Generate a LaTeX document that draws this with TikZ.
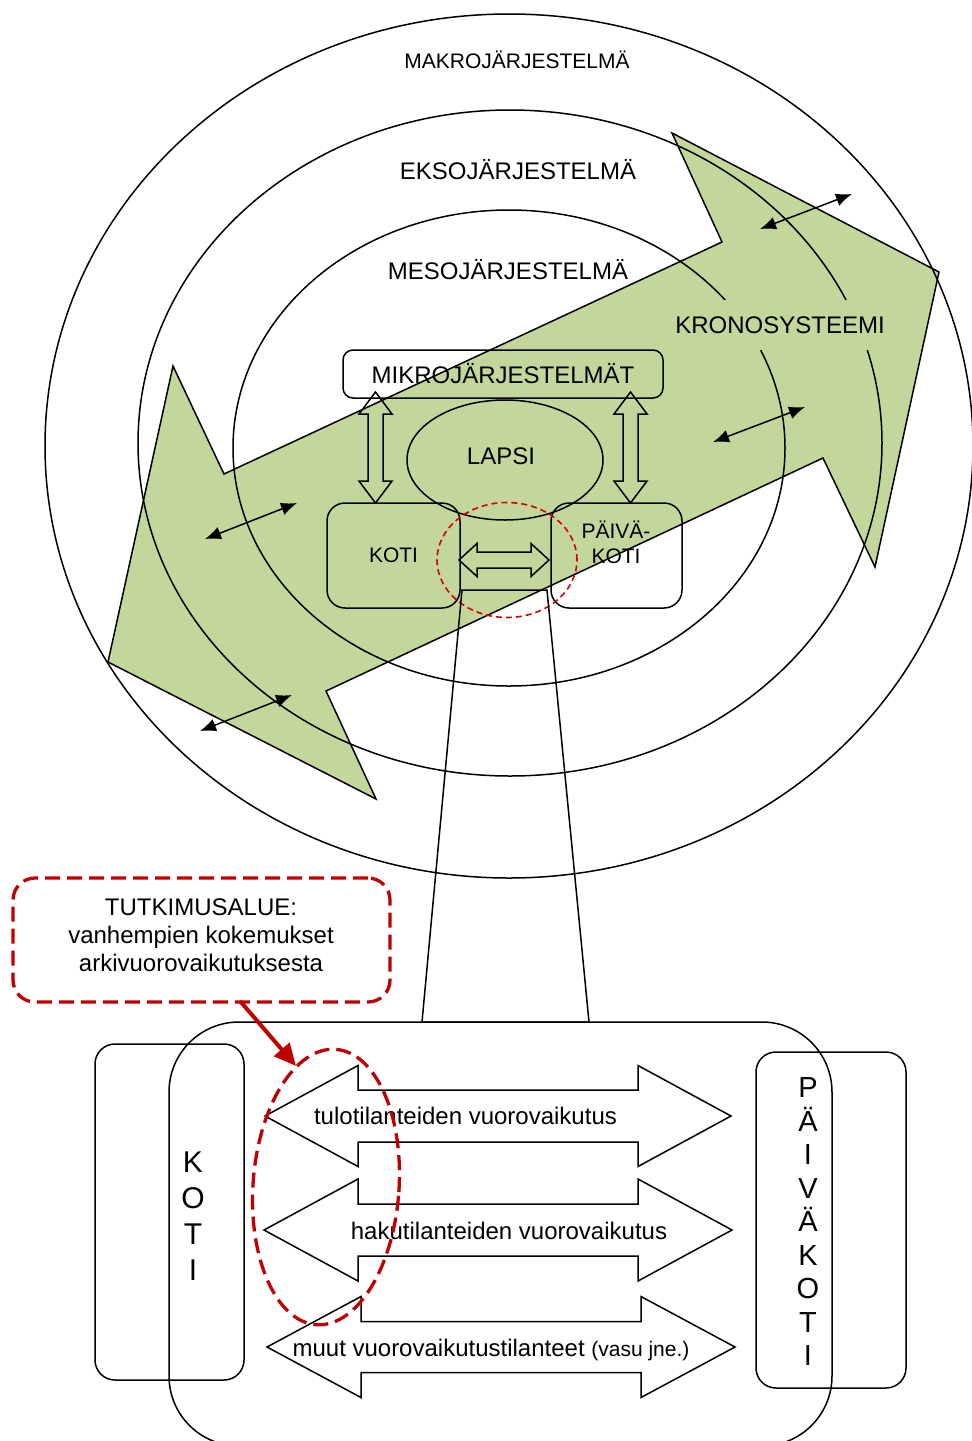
\documentclass[tikz,border=0pt]{standalone}
\usepackage{fontspec}
\setmainfont{Liberation Sans}
\usetikzlibrary{shapes.geometric,arrows.meta}

\definecolor{kronovihrea}{RGB}{195,214,155}
\definecolor{tummapuna}{RGB}{192,0,0}

\tikzset{
  viiva/.style={line width=1.5pt},
  kehä/.style={draw,ellipse,viiva,inner sep=0pt},
  laatikko/.style={draw,rectangle,rounded corners=#1,viiva,inner sep=0pt},
  laatikko/.default=15pt,
  iso/.style={font=\fontsize{24}{28}\selectfont},
  pieni/.style={font=\fontsize{21}{25}\selectfont},
  vuoro/.style={{Latex[length=16pt,width=13pt]}-{Latex[length=16pt,width=13pt]},viiva},
  rajaus/.style={draw=tummapuna,line width=3.3pt,dash pattern=on 15pt off 7pt}
}

% x1 x2 y kärki varsi siipi
\newcommand{\vaakanuoli}[6]{%
  \draw[viiva] (#1,#3) -- ({#1+#4},{#3-#6}) -- ({#1+#4},{#3-#5}) -- ({#2-#4},{#3-#5})
    -- ({#2-#4},{#3-#6}) -- (#2,#3) -- ({#2-#4},{#3+#6}) -- ({#2-#4},{#3+#5})
    -- ({#1+#4},{#3+#5}) -- ({#1+#4},{#3+#6}) -- cycle;}
% x y1 y2 kärki varsi siipi
\newcommand{\pystynuoli}[6]{%
  \draw[viiva] (#1,#2) -- ({#1-#6},{#2+#4}) -- ({#1-#5},{#2+#4}) -- ({#1-#5},{#3-#4})
    -- ({#1-#6},{#3-#4}) -- (#1,#3) -- ({#1+#6},{#3-#4}) -- ({#1+#5},{#3-#4})
    -- ({#1+#5},{#2+#4}) -- ({#1+#6},{#2+#4}) -- cycle;}

\begin{document}
\begin{tikzpicture}[x=1pt,y=-1pt]
\clip (0,0) rectangle (972,1441);
\fill[white] (0,0) rectangle (972,1441);

% kronosysteemi
\filldraw[fill=kronovihrea,viiva] (108,662) -- (173,366) -- (224,474) -- (722,242) -- (672,133)
  -- (939,272) -- (875,567) -- (823,458) -- (326,691) -- (376,799) -- cycle;

% kehät
\node[kehä,minimum width=928pt,minimum height=864pt] (makro) at (509,446) {};
\node[kehä,minimum width=744pt,minimum height=666pt] (ekso) at (510,443) {};
\node[kehä,minimum width=552pt,minimum height=476pt] (meso) at (509,448) {};

\node[pieni] (makroteksti) at (517,60) {MAKROJÄRJESTELMÄ};
\node[iso] (eksoteksti) at (518,170) {EKSOJÄRJESTELMÄ};
\node[iso] (mesoteksti) at (508,270) {MESOJÄRJESTELMÄ};
\node[iso,fill=kronovihrea,minimum height=50pt,inner xsep=2pt] (krono) at (780,325) {KRONOSYSTEEMI};

% mikrojärjestelmät
\node[laatikko=10pt,iso,minimum width=320pt,minimum height=48pt] (mikro) at (503,374) {MIKROJÄRJESTELMÄT};
\node[kehä,minimum width=196pt,minimum height=120pt] (lapsi) at (505,460) {};
\node[iso] (lapsiteksti) at (501,456) {LAPSI};
\node[laatikko=18pt,pieni,minimum width=133pt,minimum height=105pt] (koti) at (393.5,555.5) {KOTI};
\node[laatikko=18pt,minimum width=131pt,minimum height=105pt] (paivakoti) at (616.5,555.5) {};
\node[pieni,align=center] (paivakotiteksti) at (616,542) {PÄIVÄ-\\KOTI};

\pystynuoli{375.5}{392}{503}{22}{7.5}{16.5}
\pystynuoli{630.5}{392}{503}{22}{7.5}{16.5}
\vaakanuoli{459}{549}{560}{18}{8}{16.5}

\node[draw=red!85!black,line width=1.6pt,dash pattern=on 6pt off 4pt,ellipse,minimum width=140pt,minimum height=115pt] (fokus) at (507,560) {};

% suurennos
\draw[viiva] (462,590) -- (547,590) -- (589,1022) -- (422,1022) -- cycle;

% vuorovaikutus kehien välillä
\coordinate (v1a) at (760,229); \coordinate (v1b) at (852,194);
\coordinate (v2a) at (713,442); \coordinate (v2b) at (805,407);
\coordinate (v3a) at (205,539); \coordinate (v3b) at (297,503);
\coordinate (v4a) at (200,731); \coordinate (v4b) at (292,695);
\draw[vuoro] (v1a) -- (v1b);
\draw[vuoro] (v2a) -- (v2b);
\draw[vuoro] (v3a) -- (v3b);
\draw[vuoro] (v4a) -- (v4b);

% tutkimusalue
\node[laatikko=70pt,minimum width=663pt,minimum height=424pt] (arki) at (500.5,1234) {};
\node[laatikko=20pt,minimum width=149pt,minimum height=336pt] (kotiosa) at (169.5,1212) {};
\node[laatikko=20pt,minimum width=150pt,minimum height=336pt] (paivaosa) at (831,1220) {};
\node[align=center,font=\fontsize{30}{36}\selectfont] (kotipysty) at (193,1216) {K\\O\\T\\I};
\node[align=center,font=\fontsize{29}{33.5}\selectfont] (paivapysty) at (808,1222) {P\\Ä\\I\\V\\Ä\\K\\O\\T\\I};

\vaakanuoli{265}{731}{1116}{93}{26}{50.5}
\vaakanuoli{264}{732}{1230}{94}{26}{51}
\vaakanuoli{267}{735}{1347}{94}{25.5}{50.5}
\node[iso] (tulo) at (465.5,1116) {tulotilanteiden vuorovaikutus};
\node[iso] (haku) at (509,1230.5) {hakutilanteiden vuorovaikutus};
\node[iso] (muut) at (491,1350) {muut vuorovaikutustilanteet {\fontsize{21}{25}\selectfont(vasu jne.)}};

\node[rajaus,ellipse,minimum width=146pt,minimum height=276pt,rotate=-4] (tulohaku) at (326,1187) {};

\node[rajaus,rectangle,rounded corners=22pt,minimum width=377pt,minimum height=124pt] (selite) at (201.5,940) {};
\node[iso,align=center] (seliteteksti) at (201,935) {TUTKIMUSALUE:\\vanhempien kokemukset\\arkivuorovaikutuksesta};
\coordinate (nuolialku) at (240,1001);
\coordinate (nuolikarki) at (296,1066);
\draw[tummapuna,line width=4pt,-{Triangle[length=22pt,width=20pt]}] (nuolialku) -- (nuolikarki);
\end{tikzpicture}
\end{document}
